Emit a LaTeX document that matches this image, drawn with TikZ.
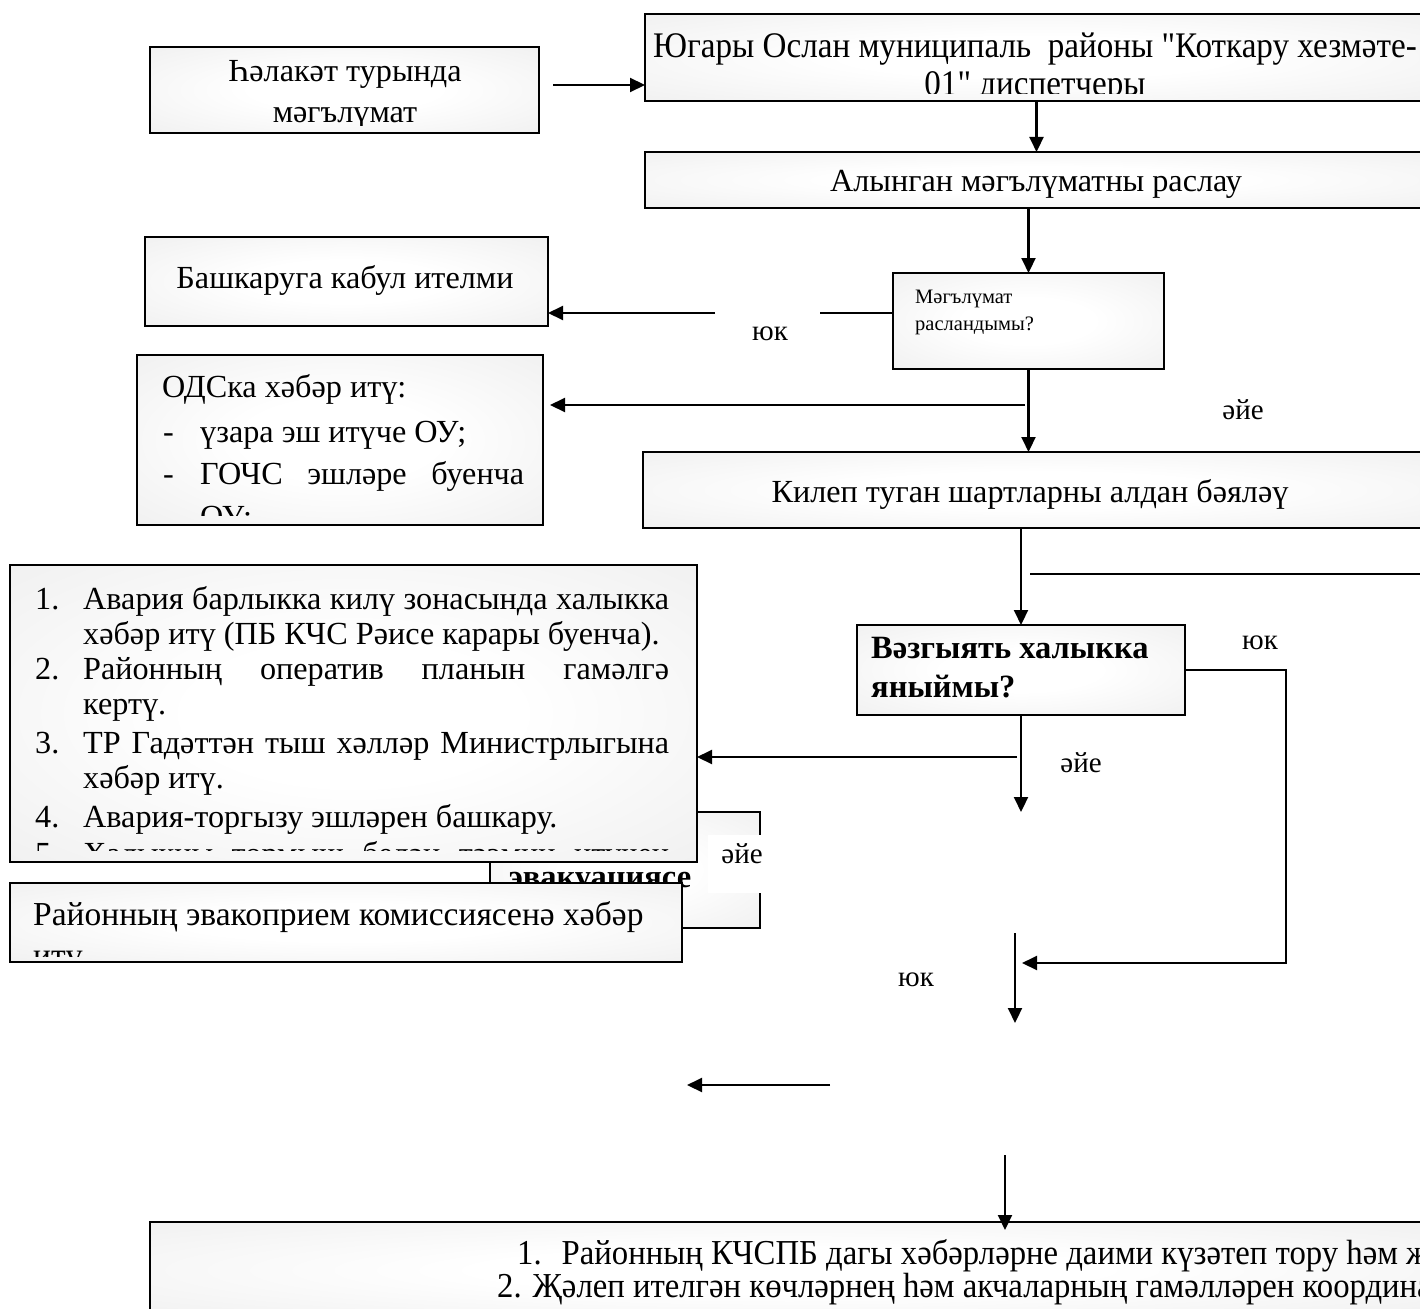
\documentclass[tikz,border=0pt]{standalone}
\usepackage{fontspec}
\setmainfont{Liberation Serif}
\newfontfamily\narrowserif[FakeStretch=0.92]{Liberation Serif}
\newfontfamily\finserif[FakeStretch=0.935]{Liberation Serif}
\usetikzlibrary{arrows.meta}
\pgfdeclareradialshading{boxshade}{\pgfpoint{0bp}{0bp}}{color(0bp)=(white); color(12bp)=(white); color(50bp)=(black!9); color(72bp)=(black!11)}

\begin{document}
\begin{tikzpicture}[x=1pt,y=1pt,yscale=-1,xscale=1,
  box/.style={draw=black,line width=1.6pt,shading=boxshade,inner sep=0pt,outer sep=0pt},
  ln/.style={line width=2.1pt},
  arr/.style={line width=2.1pt,-{Triangle[length=15pt,width=14pt]}},
  txt/.style={inner sep=0pt,font=\fontsize{32.2}{38}\selectfont},
  small/.style={inner sep=0pt,font=\fontsize{20.5}{24}\selectfont},
  bold/.style={inner sep=0pt,font=\fontsize{32.5}{38}\selectfont\bfseries},
  narrow/.style={inner sep=0pt,font=\fontsize{36}{40}\narrowserif},
  finst/.style={inner sep=0pt,font=\fontsize{35}{40}\finserif},
  lbl/.style={inner sep=0pt,font=\fontsize{29}{34}\selectfont}]
\useasboundingbox (0,0) rectangle (1420,1308);
%Shape: Rectangle
\node[box,minimum width=389pt,minimum height=86pt] (hal) at (344.5,90) {};
\begin{scope}
\clip (154,51) rectangle (535,126);
\node[txt,anchor=base] (hal1) at (345,82) {Һәлакәт турында};
\node[txt,anchor=base] (hal2) at (345,123) {мәгълүмат};
\end{scope}
%Shape: Rectangle
\node[box,minimum width=783pt,minimum height=87pt] (top) at (1036.5,57.5) {};
\begin{scope}
\clip (649,18) rectangle (1424,94);
\node[narrow,anchor=base] (top1) at (1035,58) {Югары Ослан муниципаль~ районы "Коткару хезмәте-};
\node[narrow,anchor=base] (top2) at (1035,96) {01" диспетчеры};
\end{scope}
%Shape: Rectangle
\node[box,minimum width=783pt,minimum height=56pt] (conf) at (1036.5,180) {};
\node[txt,anchor=base] (conft) at (1036,192) {Алынган мәгълүматны раслау};
%Shape: Rectangle
\node[box,minimum width=403pt,minimum height=89pt] (rej) at (346.5,281.5) {};
\node[txt,anchor=base] (rejt) at (345,288) {Башкаруга кабул ителми};
%Shape: Rectangle
\node[box,minimum width=271pt,minimum height=96pt] (chk) at (1028.5,321) {};
\node[small,anchor=base west] (chk1) at (915,303) {Мәгълүмат};
\node[small,anchor=base west] (chk2) at (915,330) {расландымы?};
%Shape: Rectangle
\node[box,minimum width=406pt,minimum height=170pt] (ods) at (340,440) {};
\begin{scope}
\clip (141,359) rectangle (539,515);
\node[txt,anchor=base west] (ods1) at (162,397) {ОДСка хәбәр итү:};
\node[txt,anchor=base west] (ods2m) at (163,442) {-};
\node[txt,anchor=base west] (ods2) at (200,442) {үзара эш итүче ОУ;};
\node[txt,anchor=base west] (ods3m) at (163,484) {-};
\node[txt,anchor=base west] (ods3) at (200,484) {\makebox[324pt][s]{ГОЧС эшләре буенча}};
\node[txt,anchor=base west] (ods4) at (200,527) {ОУ;};
\end{scope}
%Shape: Rectangle
\node[box,minimum width=785pt,minimum height=76pt] (est) at (1035.5,490) {};
\node[txt,anchor=base] (estt) at (1030,502) {Килеп туган шартларны алдан бәяләү};
%Shape: Rectangle
\node[box,minimum width=328pt,minimum height=90pt] (thr) at (1021,670) {};
\node[bold,anchor=base west] (thr1) at (871,658) {Вәзгыять халыкка};
\node[bold,anchor=base west] (thr2) at (871,697) {яныймы?};
%Shape: Rectangle
\node[box,minimum width=270pt,minimum height=116pt] (evac) at (625,870) {};
\begin{scope}
\clip (494,816) rectangle (756,924);
\node[bold,anchor=base] (evact) at (600,887) {эвакуациясе};
\end{scope}
%Shape: Rectangle
\node[box,minimum width=687pt,minimum height=297pt] (lst) at (353.5,713.5) {};
\begin{scope}
\clip (14,569) rectangle (693,850);
\node[txt,anchor=base west] (l1n) at (35,609) {1.};
\node[txt,anchor=base west] (l1) at (83,609) {\makebox[586pt][s]{Авария барлыкка килү зонасында халыкка}};
\node[txt,anchor=base west] (l1b) at (83,644) {хәбәр итү (ПБ КЧС Рәисе карары буенча).};
\node[txt,anchor=base west] (l2n) at (35,679) {2.};
\node[txt,anchor=base west] (l2) at (83,679) {\makebox[586pt][s]{Районның оператив планын гамәлгә}};
\node[txt,anchor=base west] (l2b) at (83,714) {кертү.};
\node[txt,anchor=base west] (l3n) at (35,753) {3.};
\node[txt,anchor=base west] (l3) at (83,753) {\makebox[586pt][s]{ТР Гадәттән тыш хәлләр Министрлыгына}};
\node[txt,anchor=base west] (l3b) at (83,788) {хәбәр итү.};
\node[txt,anchor=base west] (l4n) at (35,827) {4.};
\node[txt,anchor=base west] (l4) at (83,827) {Авария-торгызу эшләрен башкару.};
\node[txt,anchor=base west] (l5n) at (35,864) {5.};
\node[txt,anchor=base west] (l5) at (83,864) {\makebox[586pt][s]{Халыкны тормыш белән тәэмин итүчен}};
\end{scope}
%Shape: Rectangle
\node[box,minimum width=672pt,minimum height=79pt] (kom) at (346,922.5) {};
\begin{scope}
\clip (14,887) rectangle (678,956);
\node[txt,anchor=base west,font=\fontsize{33.5}{38}\selectfont] (kom1) at (33,925) {Районның эвакоприем комиссиясенә хәбәр};
\node[txt,anchor=base west,font=\fontsize{33.5}{38}\selectfont] (kom2) at (33,966) {итү};
\end{scope}
%Shape: Rectangle
\node[box,minimum width=1278pt,minimum height=96pt] (fin) at (789,1270) {};
\begin{scope}
\clip (154,1226) rectangle (1424,1318);
\node[finst,anchor=base west] (fin1) at (517,1264) {1.\hspace{20pt}Районның КЧСПБ дагы хәбәрләрне даими күзәтеп тору һәм житәкчелек};
\node[finst,anchor=base west] (fin2) at (497,1297) {2. Җәлеп ителгән көчләрнең һәм акчаларның гамәлләрен координацияләү};
\end{scope}
%Straight Lines
\coordinate (c1) at (553,85);
\draw[arr] (c1) -- (c1 -| top.west);
\draw[arr] (top.south) -- (conf.north);
\draw[arr] (conf.south -| chk.north) -- (chk.north);
\coordinate (n1) at (820,313);
\draw[ln] (chk.west |- n1) -- (n1);
\coordinate (n2) at (715,313);
\draw[arr] (n2) -- (n2 -| rej.east);
\draw[arr] (chk.south) -- (chk.south |- est.north);
\coordinate (y1) at (1025,405);
\draw[arr,shorten >=7pt] (y1) -- (y1 -| ods.east);
\draw[arr] (est.south -| thr.north) -- (thr.north);
\coordinate (h1) at (1030,574);
\draw[ln] (h1) -- (h1 -| fin.east);
\coordinate (r1) at (1286,963);
\coordinate (r2) at (1022,963);
\draw[arr] (thr.east) -- (thr.east -| r1) -- (r1) -- (r2);
\coordinate (d1) at (1018,812);
\draw[arr] (thr.south) -- (thr.south |- d1);
\coordinate (y2) at (1017,757);
\draw[arr] (y2) -- (y2 -| lst.east);
\coordinate (d2a) at (1015,933);
\coordinate (d2b) at (1015,1023);
\draw[arr] (d2a) -- (d2b);
\coordinate (w1a) at (830,1085);
\coordinate (w1b) at (687,1085);
\draw[arr] (w1a) -- (w1b);
\coordinate (d3) at (1005,1155);
\draw[arr,shorten >=-8pt] (d3) -- (d3 |- fin.north);
%Text labels
\node[lbl,anchor=base] (no1) at (770,340) {юк};
\node[lbl,anchor=base] (ye1) at (1243,419) {әйе};
\node[lbl,anchor=base] (no2) at (1260,649) {юк};
\node[lbl,anchor=base] (ye2) at (1081,772) {әйе};
\node[lbl,anchor=base] (no3) at (916,986) {юк};
\fill[white] (708,835) rectangle (761,893);
\node[lbl,anchor=base] (ye3) at (742,863) {әйе};
\end{tikzpicture}
\end{document}
